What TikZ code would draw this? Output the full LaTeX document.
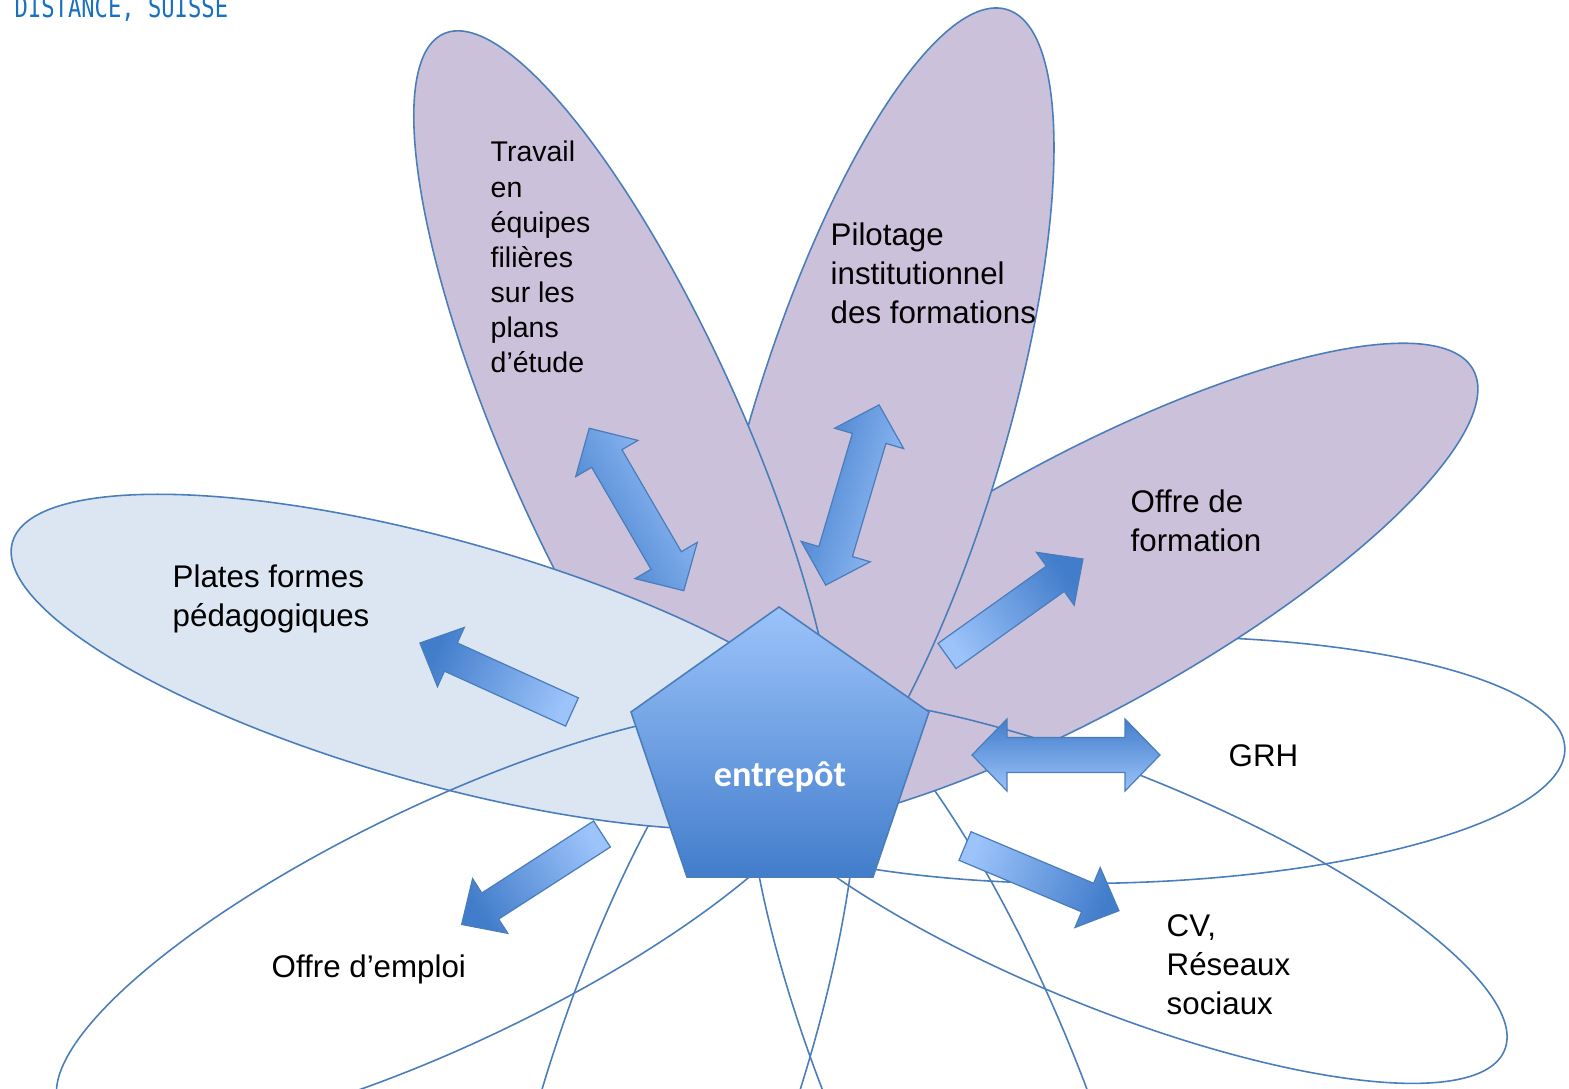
\documentclass[tikz,border=0pt]{standalone}
\usepackage{fontspec}
\setmainfont{Liberation Sans}
\newfontfamily\calfont{Carlito}
\newfontfamily\logofont{DejaVu Sans Mono}

\definecolor{petalline}{RGB}{74,126,187}
\definecolor{petalpurple}{RGB}{204,193,218}
\definecolor{petalblue}{RGB}{220,230,242}
\definecolor{arrowlight}{RGB}{156,195,250}
\definecolor{arrowdark}{RGB}{66,125,203}
\definecolor{logoblue}{RGB}{24,112,190}

\tikzset{
  petal/.style={draw=petalline, line width=0.45pt},
  blockarrow/.style={draw=petalline, line width=0.35pt, top color=arrowdark, bottom color=arrowlight, shading angle=#1},
  petaltext/.style={inner sep=0pt, anchor=base west, font=\fontsize{8.9}{11}\selectfont},
  onearrow/.pic={\path[pic actions] (0,-15.5) -- (133,-15.5) -- (133,-32.5) -- (167,0) -- (133,32.5) -- (133,15.5) -- (0,15.5) -- cycle;},
  twoarrow/.pic={\path[pic actions] (-94,0) -- (-59,-36) -- (-59,-17.5) -- (59,-17.5) -- (59,-36) -- (94,0) -- (59,36) -- (59,17.5) -- (-59,17.5) -- (-59,36) -- cycle;}
}

\begin{document}
\begin{tikzpicture}[x=0.01cm, y=-0.01cm]
  \path[use as bounding box, clip] (0,0) rectangle (1569,1089);

  % open petals lying under the filled ones
  \draw[petal, rotate around={1.5:(1117,760)}] (1117,760) ellipse [x radius=448, y radius=123];
  \draw[petal, rotate around={-67.4:(953,1085)}] (953,1085) ellipse [x radius=448, y radius=123];
  \draw[petal, rotate around={-108.5:(674,1080)}] (674,1080) ellipse [x radius=448, y radius=123];

  % filled petals
  \filldraw[petal, fill=petalpurple, rotate around={28.8:(1078,587)}] (1078,587) ellipse [x radius=451, y radius=126];
  \filldraw[petal, fill=petalpurple, rotate around={73:(876,438)}] (876,438) ellipse [x radius=448, y radius=126];
  \filldraw[petal, fill=petalpurple, rotate around={114:(626,443)}] (626,443) ellipse [x radius=448, y radius=119];
  \filldraw[petal, fill=petalblue, rotate around={-15.6:(441,662)}] (441,662) ellipse [x radius=445, y radius=122];

  % open petals on top
  \draw[petal, rotate around={-22.2:(1112,890)}] (1112,890) ellipse [x radius=424, y radius=117];
  \draw[petal, rotate around={25.5:(448,923)}] (448,923) ellipse [x radius=430, y radius=120];

  % block arrows
  \pic[blockarrow=65.6, rotate=155.6] at (572,712) {onearrow};
  \pic[blockarrow=-54.5, rotate=35.5] at (947,656) {onearrow};
  \pic[blockarrow=-112.8, rotate=-22.8] at (965,846) {onearrow};
  \pic[blockarrow=-237.2, rotate=-147.2] at (602,834) {onearrow};
  \pic[blockarrow=120.2, rotate=120.2] at (636.5,509.5) {twoarrow};
  \pic[blockarrow=73.5, rotate=73.5] at (852.4,495) {twoarrow};
  \pic[blockarrow=0, rotate=0] at (1066,755) {twoarrow};

  % centre
  \draw[draw=petalline, line width=0.45pt, top color=arrowlight, bottom color=arrowdark]
    (779,607) -- (929,712) -- (873,877) -- (687,877) -- (631,712) -- cycle;
  \node[inner sep=0pt, anchor=base, text=white, font=\calfont\bfseries\fontsize{10.3}{12}\selectfont] (entrepot) at (780,787) {entrepôt};

  % labels
  \node[petaltext] (plates) at (172,588) {\begin{tabular}[t]{@{}l@{}}Plates formes\\pédagogiques\end{tabular}};
  \node[petaltext, font=\fontsize{8.1}{10}\selectfont] (travail) at (490,162) {\begin{tabular}[t]{@{}l@{}}Travail\\en\\équipes\\filières\\sur les\\plans\\d’étude\end{tabular}};
  \node[petaltext] (pilotage) at (830,246) {\begin{tabular}[t]{@{}l@{}}Pilotage\\institutionnel\\des formations\end{tabular}};
  \node[petaltext] (formation) at (1130,513) {\begin{tabular}[t]{@{}l@{}}Offre de\\formation\end{tabular}};
  \node[petaltext] (grh) at (1228,767) {GRH};
  \node[petaltext] (cv) at (1166,937) {\begin{tabular}[t]{@{}l@{}}CV,\\Réseaux\\sociaux\end{tabular}};
  \node[petaltext] (emploi) at (271,978) {Offre d’emploi};

  \node[inner sep=0pt, anchor=base west, text=logoblue, font=\logofont\fontsize{6.3}{7}\selectfont] (logo) at (14,17.3) {\scalebox{1}[1.3]{DISTANCE, SUISSE}};
\end{tikzpicture}
\end{document}
